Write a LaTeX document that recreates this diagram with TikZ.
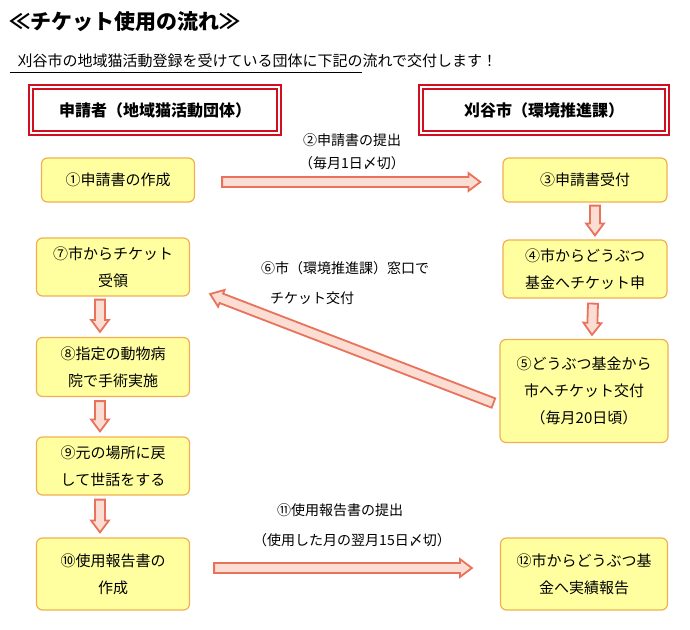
\documentclass[tikz,border=0pt]{standalone}
\usepackage{fontspec}
\setmainfont{Noto Sans CJK JP}
\usetikzlibrary{calc,positioning}
\definecolor{boxline}{HTML}{F0B050}
\definecolor{boxfill}{HTML}{FFFFA0}
\definecolor{arline}{HTML}{E8735A}
\definecolor{arfill}{HTML}{FBDDD3}
\definecolor{hdred}{HTML}{D01020}
\tikzset{
 stepbox/.style={draw=boxline,fill=boxfill,line width=1.2pt,rounded corners=6pt,align=center,
   font=\fontsize{15}{27}\selectfont,inner sep=0pt},
 headbox/.style={draw=hdred,line width=1.8pt,double=white,double distance=2.5pt,minimum height=46pt,
   font=\bfseries\fontsize{16}{18}\selectfont},
 lbl/.style={font=\fontsize{14}{16}\selectfont},
 barrow/.style={draw=arline,fill=arfill,line width=1.8pt,line join=miter}
}
\newcommand\blockarrow[2]{%
 \path let \p1=(#1),\p2=(#2),\n1={atan2(\y2-\y1,\x2-\x1)},\n2={veclen(\x2-\x1,\y2-\y1)} in
   \pgfextra{\xdef\arang{\n1}\xdef\arlen{\n2}\xdef\arx{\x1}\xdef\ary{\y1}};
 \draw[barrow,shift={(\arx,\ary)},rotate=\arang]
   (0pt,-5pt) -- (\arlen-12pt,-5pt) -- (\arlen-12pt,-9pt) -- (\arlen,0pt)
   -- (\arlen-12pt,9pt) -- (\arlen-12pt,5pt) -- (0pt,5pt) -- cycle;}
\begin{document}
\begin{tikzpicture}[x=1pt,y=-1pt]
\useasboundingbox (0,0) rectangle (690,629);
% title
\node[anchor=west,font=\bfseries\fontsize{21}{24}\selectfont] (title) at (6,22) {≪チケット使用の流れ≫};
\node[anchor=west,font=\fontsize{15}{17}\selectfont] (sub) at (14,61) {刈谷市の地域猫活動登録を受けている団体に下記の流れで交付します！};
\draw[line width=1pt] (10,72) -- (362,72);
% headers
\node[headbox,minimum width=248pt] (appl) at (155,110) {申請者（地域猫活動団体）};
\node[headbox,minimum width=246pt] (city) at (544,110) {刈谷市（環境推進課）};
% steps
\node[stepbox,minimum width=153pt,minimum height=44pt] (s1) at (118,180) {①申請書の作成};
\node[stepbox,minimum width=164pt,minimum height=44pt] (s3) at (585,180) {③申請書受付};
\node[stepbox,minimum width=164pt,minimum height=58pt] (s4) at (585,269) {④市からどうぶつ\\基金へチケット申};
\node[stepbox,minimum width=168pt,minimum height=103pt] (s5) at (584,391) {⑤どうぶつ基金から\\市へチケット交付\\（毎月20日頃）};
\node[stepbox,minimum width=153pt,minimum height=58pt] (s7) at (113,267) {⑦市からチケット\\受領};
\node[stepbox,minimum width=153pt,minimum height=59pt] (s8) at (113,367) {⑧指定の動物病\\院で手術実施};
\node[stepbox,minimum width=153pt,minimum height=58pt] (s9) at (113,466) {⑨元の場所に戻\\して世話をする};
\node[stepbox,minimum width=153pt,minimum height=72pt] (s10) at (113,574) {⑩使用報告書の\\作成};
\node[stepbox,minimum width=167pt,minimum height=72pt] (s12) at (584,574) {⑫市からどうぶつ基\\金へ実績報告};
% labels
\node[lbl] (l2a) at (352,140) {②申請書の提出};
\node[lbl] (l2b) at (352,163) {（毎月1日〆切）};
\node[lbl] (l6a) at (345,268) {⑥市（環境推進課）窓口で};
\node[lbl] (l6b) at (312,298) {チケット交付};
\node[lbl] (l11a) at (340,510) {⑪使用報告書の提出};
\node[lbl] (l11b) at (352,540) {（使用した月の翌月15日〆切）};
% arrows
\coordinate (a2s) at ($(s1.east)+(27,2)$);
\coordinate (a2e) at ($(s3.west)+(-22,2)$);
\blockarrow{a2s}{a2e}
\blockarrow{$(s3.south)+(10,3)$}{$(s4.north)+(10,-4)$}
\blockarrow{$(s4.south)+(8,5)$}{$(s5.north)+(8,-4)$}
\blockarrow{$(s5.west)+(-6,12)$}{$(s7.east)+(20,27)$}
\blockarrow{$(s7.south)+(-13,3)$}{$(s8.north)+(-13,-5)$}
\blockarrow{$(s8.south)+(-13,4)$}{$(s9.north)+(-13,-5)$}
\blockarrow{$(s9.south)+(-13,4)$}{$(s10.north)+(-13,-5)$}
\blockarrow{$(s10.east)+(24,-6)$}{$(s12.west)+(-28,-6)$}
\end{tikzpicture}
\end{document}
